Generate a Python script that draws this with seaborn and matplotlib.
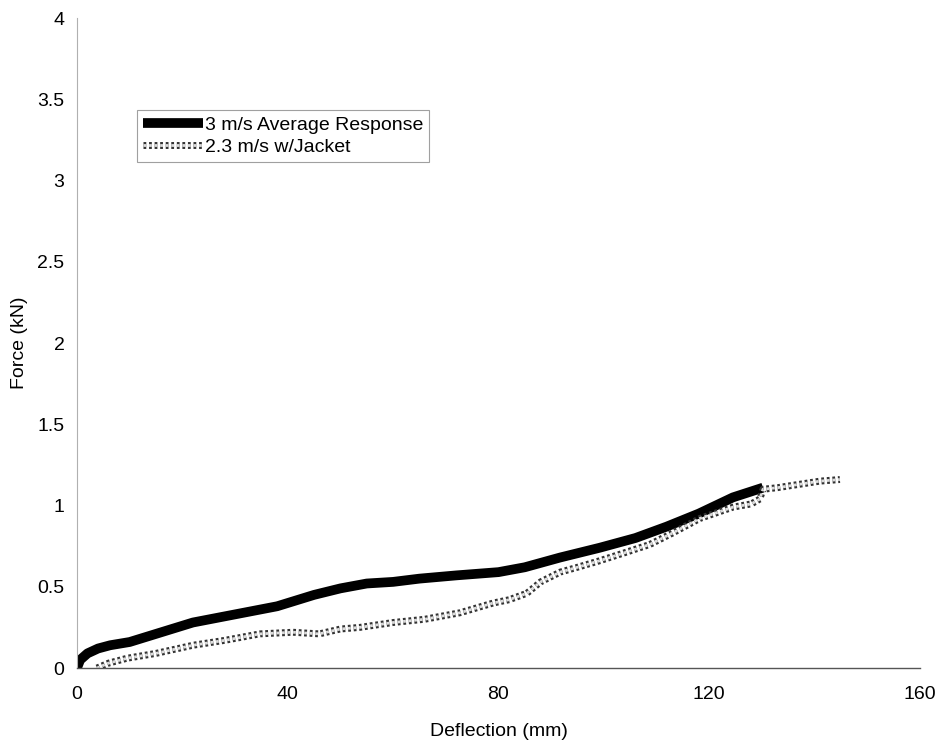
import matplotlib
matplotlib.use("Agg")
import matplotlib.pyplot as plt
import matplotlib.patheffects as pe
import seaborn as sns

# 3 m/s average response
avg_defl = [0, 0.6, 2, 4, 6.3, 10, 15, 22, 30, 38, 41, 45, 50, 55, 60, 65, 72,
            80, 85, 91.7, 99.2, 106, 111.9, 118, 124.5, 130.2]
avg_force = [0, 0.05, 0.09, 0.12, 0.14, 0.16, 0.21, 0.28, 0.33, 0.38, 0.41,
             0.45, 0.49, 0.52, 0.53, 0.55, 0.57, 0.59, 0.62, 0.68, 0.74, 0.80,
             0.87, 0.95, 1.05, 1.11]

# 2.3 m/s with jacket
jkt_defl = [3.8, 6, 9.5, 15, 22, 28, 34.7, 41, 46, 50, 53.7, 60, 66, 72.7, 79,
            82, 85.4, 88, 91.7, 95, 99.2, 104, 108.7, 113, 118.2, 124.5, 128,
            129.6, 130.2, 133, 137, 141, 144.8]
jkt_force = [0, 0.03, 0.06, 0.09, 0.14, 0.17, 0.21, 0.22, 0.21, 0.24, 0.25,
             0.28, 0.30, 0.34, 0.40, 0.42, 0.46, 0.53, 0.59, 0.62, 0.66, 0.71,
             0.76, 0.83, 0.92, 0.99, 1.01, 1.04, 1.10, 1.11, 1.13, 1.15, 1.16]

x_ticks = [0, 40, 80, 120, 160]
y_ticks = [0, 0.5, 1, 1.5, 2, 2.5, 3, 3.5, 4]
y_ticklabels = ['0', '0.5', '1', '1.5', '2', '2.5', '3', '3.5', '4']

sns.set_theme(style="white")
plt.rcParams['font.family'] = ['Liberation Sans', 'DejaVu Sans']
plt.rcParams['text.color'] = 'black'
plt.rcParams['axes.labelcolor'] = 'black'
plt.rcParams['xtick.color'] = 'black'
plt.rcParams['ytick.color'] = 'black'

fig = plt.figure(figsize=(9.4, 7.52), dpi=100)
ax = fig.add_axes([0.0819, 0.1117, 0.8968, 0.8643])

sns.lineplot(x=avg_defl, y=avg_force, ax=ax, sort=False, estimator=None,
             color='black', linewidth=7, solid_capstyle='butt',
             label='3 m/s Average Response')
sns.lineplot(x=jkt_defl, y=jkt_force, ax=ax, sort=False, estimator=None,
             color='#dcdcdc', linewidth=2, linestyle=(0, (1, 1)),
             dash_capstyle='butt', label='2.3 m/s w/Jacket')
ax.lines[1].set_path_effects([pe.Stroke(linewidth=5, foreground='#333333'),
                              pe.Normal()])

ax.set_xlim(0, 160)
ax.set_ylim(0, 4)
ax.set_xticks(x_ticks)
ax.set_yticks(y_ticks)
ax.set_yticklabels(y_ticklabels)
ax.tick_params(labelsize=14, length=3, width=0.8, color='#777777', pad=6)
ax.tick_params(axis='x', pad=10)
ax.set_xlabel('Deflection (mm)', fontsize=14)
ax.set_ylabel('Force (kN)', fontsize=14)
ax.xaxis.set_label_coords(0.5, -0.085)
ax.yaxis.set_label_coords(-0.058, 0.5)

for side in ['top', 'right']:
    ax.spines[side].set_visible(False)
ax.spines['left'].set_color('#b0b0b0')
ax.spines['left'].set_linewidth(0.8)
ax.spines['bottom'].set_color('#555555')
ax.spines['bottom'].set_linewidth(1.0)

leg = ax.legend(loc='upper left', bbox_to_anchor=(0.071, 0.858), fontsize=14,
                frameon=True, fancybox=False, handlelength=3.1,
                handletextpad=0.1, borderpad=0.3, labelspacing=0.25,
                borderaxespad=0)
leg.get_frame().set_edgecolor('#888888')
leg.get_frame().set_linewidth(0.8)

fig.savefig('out.png', dpi=100)
